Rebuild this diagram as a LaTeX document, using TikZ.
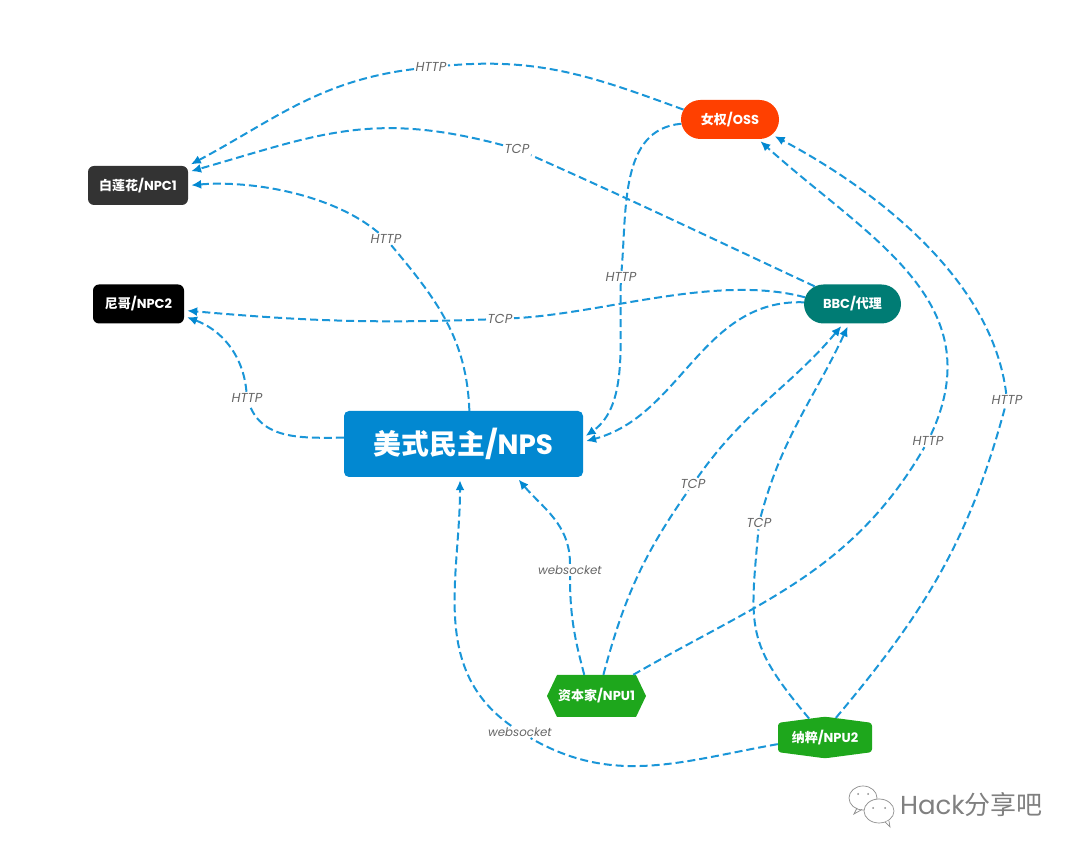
\documentclass[tikz,border=0pt]{standalone}
\usepackage{fontspec}
\setmainfont{Poppins}
\newfontfamily\cjk{Noto Sans CJK SC}
\usetikzlibrary{arrows.meta}
\usetikzlibrary{positioning}
\usetikzlibrary{shapes.misc,shapes.symbols}
\definecolor{npsblue}{HTML}{0288D1}
\definecolor{linkblue}{HTML}{1A96D8}
\definecolor{ossred}{HTML}{FF4000}
\definecolor{bbcteal}{HTML}{007C74}
\definecolor{npugreen}{HTML}{1EA71C}
\definecolor{labelgrey}{HTML}{666666}
\tikzset{
  box/.style={text=white,font=\bfseries\fontsize{13}{15}\selectfont,inner sep=0pt,
    minimum height=39pt},
  npc/.style={box,rectangle,rounded corners=6pt},
  pill/.style={box,rounded rectangle},
  lbl/.style={text=labelgrey,font=\itshape\fontsize{13}{15}\selectfont,inner sep=1.5pt},
  lblws/.style={lbl,font=\itshape\fontsize{11.8}{14}\selectfont},
  link/.style={draw=linkblue,line width=2pt,dash pattern=on 8pt off 4pt,->,
    >={Latex[length=10pt,width=9pt,color=npsblue]},shorten >=3pt},
}
\begin{document}
\begin{tikzpicture}[x=1pt,y=1pt,on grid]
  \useasboundingbox (0,0) rectangle (1080,854);

  % nodes
  \node[rectangle,rounded corners=5pt,fill=npsblue,text=white,minimum width=239pt,minimum height=66pt,
    font=\bfseries\fontsize{27.8}{32}\selectfont] (nps) at (463.5,410) {{\cjk 美式民主}/NPS};
  \node[npc,fill=black!80,minimum width=100pt] (npc1) [above left=258.5pt and 325.5pt of nps] {{\cjk 白莲花}/NPC1};
  \node[npc,fill=black,minimum width=91pt] (npc2) [above left=140pt and 325pt of nps] {{\cjk 尼哥}/NPC2};
  \node[pill,fill=ossred,minimum width=98pt] (oss) [above right=324.5pt and 266.5pt of nps] {{\cjk 女权}/OSS};
  \node[pill,fill=bbcteal,minimum width=97pt] (bbc) [above right=140pt and 389pt of nps] {BBC/{\cjk 代理}};
  \node[box,signal,signal to=east and west,signal pointer angle=129,fill=npugreen,
    minimum width=99pt,minimum height=42pt] (npu1) [below right=252pt and 133pt of nps] {{\cjk 资本家}/NPU1};
  \node[box,signal,signal to=north and south,signal pointer angle=165,fill=npugreen,rounded corners=3pt,
    minimum width=94pt,minimum height=38pt] (npu2) [below right=293.5pt and 361.5pt of nps] {{\cjk 纳粹}/NPU2};

  % labels
  \node[lbl] (http_a) [above left=377pt and 32.5pt of nps] {HTTP};
  \node[lbl] (tcp_a) [above right=295pt and 53.5pt of nps] {TCP};
  \node[lbl] (http_b) [above left=205pt and 77.5pt of nps] {HTTP};
  \node[lbl] (tcp_b) [above right=125pt and 36.5pt of nps] {TCP};
  \node[lbl] (http_c) [above left=46pt and 216.5pt of nps] {HTTP};
  \node[lbl] (http_d) [above right=167pt and 157.5pt of nps] {HTTP};
  \node[lbl] (tcp_c) [below right=40pt and 229.5pt of nps] {TCP};
  \node[lbl] (tcp_d) [below right=79pt and 295.5pt of nps] {TCP};
  \node[lbl] (http_e) [above right=3pt and 464.5pt of nps] {HTTP};
  \node[lbl] (http_f) [above right=44pt and 543.5pt of nps] {HTTP};
  \node[lblws] (ws_a) [below right=126pt and 106.5pt of nps] {websocket};
  \node[lblws] (ws_b) [below right=288pt and 56.5pt of nps] {websocket};

  % links
  \draw[link] (oss.168) to[out=160,in=5] (http_a) to[out=187,in=28] (npc1.north east);
  \draw[link] (bbc) to[out=155,in=-24] (tcp_a) to[out=165,in=16,looseness=1.1] (npc1.15);
  \draw[link] (nps.80.5) to[out=92,in=-50] (http_b) to[out=140,in=5,looseness=.8] (npc1.east);
  \draw[link] (bbc.172) to[out=165,in=3,looseness=.8] (tcp_b) to[out=182,in=-5] (npc2.-8);
  \draw[link] (nps.177.5) to[out=180,in=-70] (http_c) to[out=95,in=-20] (npc2.-15);
  \draw[link] (oss) to[out=185,in=85] (http_d) to[out=-92,in=35,looseness=.9] (nps.3.5);
  \draw[link] (bbc) to[out=178,in=15] (nps.1);
  \draw[link] (npu1.72) to[out=75,in=-125] (tcp_c) to[out=55,in=-130] (bbc.-115);
  \draw[link] (npu2.130) to[out=130,in=-95,looseness=1.3] (tcp_d) to[out=75,in=-115] (bbc.-100);
  \draw[link] (npu1) to[out=30,in=-120] (http_e) to[out=65,in=-42,looseness=1.1] (oss.-35);
  \draw[link] (npu2.61) to[out=50,in=-105] (http_f) to[out=97,in=-28,looseness=.85] (oss.-20);
  \draw[link] (npu1.120) to[out=105,in=-90] (ws_a) to[out=90,in=-50] (nps.-32);
  \draw[link] (npu2.188) to[out=190,in=-30] (ws_b) to[out=145,in=-90] (nps.-96);

  % watermark
  \draw[black!45,line width=.7pt,fill=white] (863,56) ellipse (14pt and 12pt);
  \draw[black!45,line width=.7pt,fill=white] (879,43) ellipse (15pt and 12pt);
  \draw[black!45,line width=.7pt] (857,46) -- (854,40) -- (862,44.5);
  \draw[black!45,line width=.7pt,fill=white] (885,32) -- (890,27) -- (889,33);
  \foreach \ex/\ey in {858/60,868/60,873/46,885/46} \fill[black!45] (\ex,\ey) circle (1pt);
  \node[text=black!50,font=\fontsize{26}{29}\selectfont,inner sep=0pt] (mark) at (971.5,49) {Hack{\cjk 分享吧}};
\end{tikzpicture}
\end{document}
